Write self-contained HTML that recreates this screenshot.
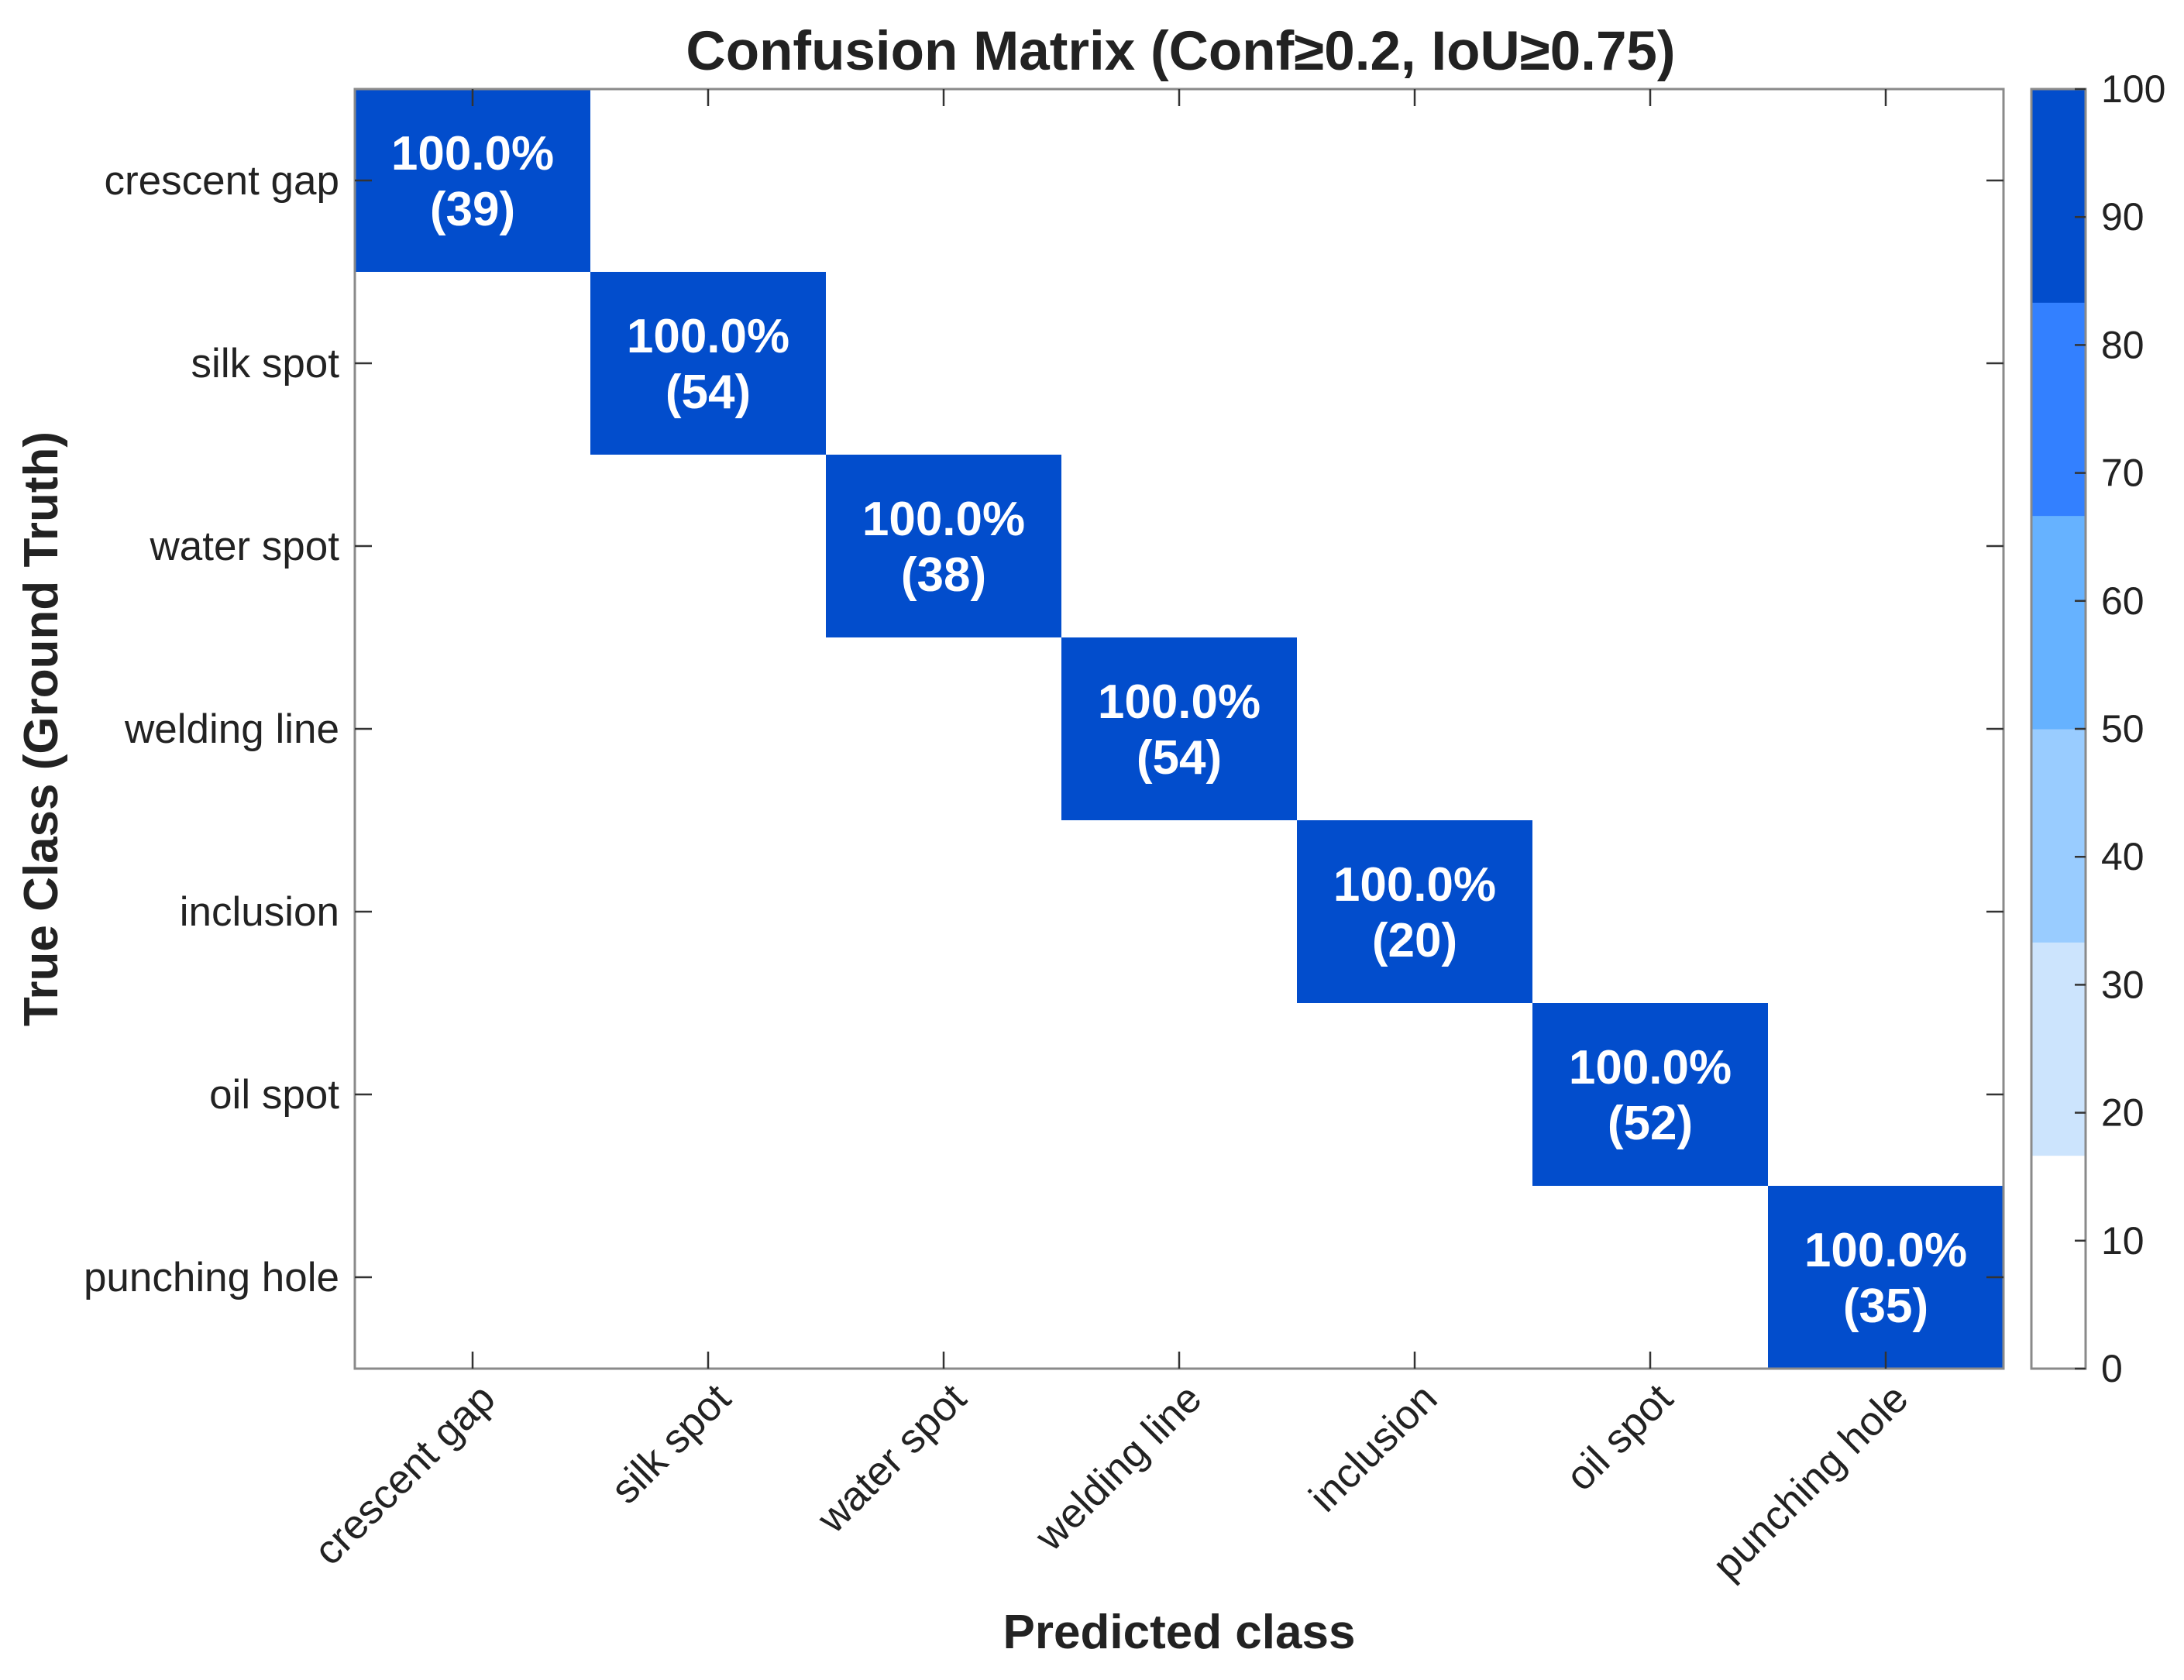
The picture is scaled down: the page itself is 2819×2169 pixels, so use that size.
<!DOCTYPE html>
<html><head><meta charset="utf-8"><style>
html,body{margin:0;padding:0;background:#fff}
svg{display:block;font-family:"Liberation Sans",Arial,sans-serif}
</style></head><body>
<svg id="chart" width="2819" height="2169" viewBox="0 0 2819 2169" xmlns="http://www.w3.org/2000/svg">
<text x="1524" y="90" font-size="71" font-weight="bold" text-anchor="middle" fill="#222">Confusion Matrix (Conf≥0.2, IoU≥0.75)</text>
<text transform="translate(74,941) rotate(-90)" font-size="62" font-weight="bold" text-anchor="middle" fill="#222">True Class (Ground Truth)</text>
<text x="1522" y="2128" font-size="62" font-weight="bold" text-anchor="middle" fill="#222">Predicted class</text>
<g id="cells"></g>
<g id="axes"></g>
<g id="cbar"></g>
</svg>
<script>
const classes = ["crescent gap","silk spot","water spot","welding line","inclusion","oil spot","punching hole"];
const diagCounts = [39,54,38,54,20,52,35];
const cbTicks = [0,10,20,30,40,50,60,70,80,90,100];
const cbColors = ["#ffffff","#cce4fd","#99ccff","#66b2ff","#3380ff","#024dcc"];

const NS="http://www.w3.org/2000/svg";
const L=458,R=2586,T=115,B=1767;
const n=classes.length, cw=(R-L)/n, ch=(B-T)/n;
const xPos=i=>L+i*cw, yPos=i=>T+i*ch;
function mk(tag,attrs,parent){const e=document.createElementNS(NS,tag);for(const k in attrs)e.setAttribute(k,attrs[k]);parent.appendChild(e);return e;}
function colorFor(p){const idx=Math.min(cbColors.length-1,Math.floor(p/(100/cbColors.length)));return cbColors[idx];}

const cells=document.getElementById('cells');
const total=diagCounts.map(v=>v);
for(let r=0;r<n;r++){
  for(let c=0;c<n;c++){
    const cnt = r===c?diagCounts[r]:0;
    const pct = total[r]?cnt/total[r]*100:0;
    const rect=mk('rect',{x:xPos(c),y:yPos(r),width:cw+0.5,height:ch+0.5,fill:colorFor(pct)},cells);
    
    
    if(cnt>0){
      const t1=mk('text',{x:xPos(c)+cw/2,y:yPos(r)+ch/2-14,'font-size':62,'font-weight':'bold','text-anchor':'middle',fill:'#fff'},cells);
      t1.textContent=pct.toFixed(1)+'%';
      
      
      const t2=mk('text',{x:xPos(c)+cw/2,y:yPos(r)+ch/2+58,'font-size':62,'font-weight':'bold','text-anchor':'middle',fill:'#fff'},cells);
      t2.textContent='('+cnt+')';
      
      
    }
  }
}
const ax=document.getElementById('axes');
const frame=mk('rect',{x:L,y:T,width:R-L,height:B-T,fill:'none',stroke:'#8a8a8a','stroke-width':3},ax);


for(let i=0;i<n;i++){
  const cx=xPos(i)+cw/2, cy=yPos(i)+ch/2;
  mk('line',{x1:cx,y1:B,x2:cx,y2:B-22,stroke:'#333','stroke-width':2.5},ax);
  mk('line',{x1:cx,y1:T,x2:cx,y2:T+22,stroke:'#333','stroke-width':2.5},ax);
  mk('line',{x1:L,y1:cy,x2:L+22,y2:cy,stroke:'#333','stroke-width':2.5},ax);
  mk('line',{x1:R,y1:cy,x2:R-22,y2:cy,stroke:'#333','stroke-width':2.5},ax);
  const yl=mk('text',{x:L-20,y:cy+18,'font-size':53,'text-anchor':'end',fill:'#222'},ax);
  yl.textContent=classes[i];
  
  
  const ax_=cx+32, ay_=B+42;
  const xl=mk('text',{x:0,y:0,'font-size':53,'text-anchor':'end',fill:'#222',transform:'translate('+ax_+','+ay_+') rotate(-45)'},ax);
  xl.textContent=classes[i];
  
  
}
const cb=document.getElementById('cbar');
const CL=2622,CR=2692,CT=115,CB=1767;
const cbY=v=>CB-(v/100)*(CB-CT);
const step=100/cbColors.length;
cbColors.forEach((col,i)=>{
  const r=mk('rect',{x:CL,y:cbY((i+1)*step),width:CR-CL,height:cbY(i*step)-cbY((i+1)*step)+0.5,fill:col},cb);
  
  
});
const cf=mk('rect',{x:CL,y:CT,width:CR-CL,height:CB-CT,fill:'none',stroke:'#8a8a8a','stroke-width':3},cb);


cbTicks.forEach(v=>{
  const y=cbY(v);
  mk('line',{x1:CR,y1:y,x2:CR-14,y2:y,stroke:'#333','stroke-width':2.5},cb);
  const t=mk('text',{x:CR+20,y:y+17,'font-size':50,fill:'#222'},cb);
  t.textContent=v;
  
  
});
</script>
</body></html>
